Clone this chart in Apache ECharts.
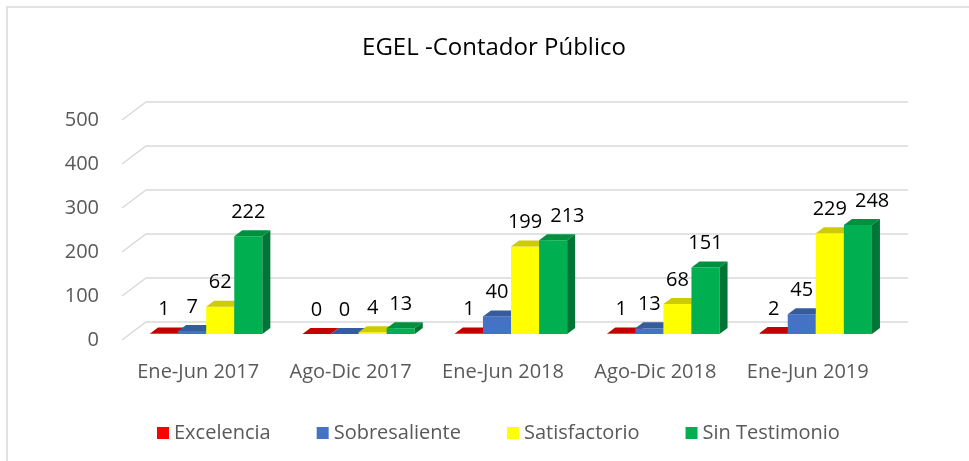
<!DOCTYPE html>
<html style="height: 100%">
<head>
    <meta charset="utf-8">
    <script src="https://cdn.jsdelivr.net/npm/echarts@6/dist/echarts.min.js"></script>
</head>
<body style="height: 100%; margin: 0; background: #fff">
<div id="container" style="width: 969px; height: 461px"></div>

<script type="text/javascript">
    var categories = ['Ene-Jun 2017', 'Ago-Dic 2017', 'Ene-Jun 2018', 'Ago-Dic 2018', 'Ene-Jun 2019'];
    var seriesNames = ['Excelencia', 'Sobresaliente', 'Satisfactorio', 'Sin Testimonio'];
    var excelencia = [1, 0, 1, 1, 2];
    var sobresaliente = [7, 0, 40, 13, 45];
    var satisfactorio = [62, 4, 199, 68, 229];
    var sinTestimonio = [222, 13, 213, 151, 248];
    var yTicks = [0, 100, 200, 300, 400, 500];

    // front / top / side colours for the fake 3d boxes
    var palette = [
        ['#ff0000', '#c40000', '#a00000'],
        ['#4472c4', '#375c9e', '#2f5597'],
        ['#ffff00', '#cccc00', '#a8a800'],
        ['#00b050', '#00913f', '#007535']
    ];
    var FONT = '"Open Sans", sans-serif';
    var LABEL_FONT = '20px ' + FONT;
    var BAR_RATIO = 28 / 152;  // bar width vs category band
    var SHIFT = [8, -6];       // bars sit a bit behind the front edge
    var DEPTH = [8, -6];       // depth of each bar
    var WALL = [24, -18];      // depth of the back wall

    var valueLists = [excelencia, sobresaliente, satisfactorio, sinTestimonio];

    var dom = document.getElementById("container");
    var myChart = echarts.init(dom);

    var measureCtx = document.createElement('canvas').getContext('2d');
    function textWidth(t) {
        measureCtx.font = LABEL_FONT;
        return measureCtx.measureText(t).width;
    }

    // like excel: push a label to the right when it would run into its neighbour
    function labelCenters(cat, api) {
        var out = [];
        var prev = null;
        for (var j = 0; j < valueLists.length; j++) {
            var base = api.coord([cat, 0]);
            var w = api.size([1, 0])[0] * BAR_RATIO;
            var x0 = base[0] + SHIFT[0] - 2 * w + j * w;
            var yt = api.coord([cat, valueLists[j][cat]])[1];
            var tw = textWidth(String(valueLists[j][cat]));
            var cx = x0 + w / 2;
            if (prev && Math.abs(prev.y - yt) < 20 && prev.right + 8 > cx - tw / 2) {
                cx = prev.right + 8 + tw / 2;
            }
            out.push(cx);
            prev = {y: yt, right: cx + tw / 2};
        }
        return out;
    }

    function boxRenderer(k) {
        var c = palette[k];
        return function (params, api) {
            var cat = api.value(0), v = api.value(1);
            var base = api.coord([cat, 0]);
            var top = api.coord([cat, v]);
            var w = api.size([1, 0])[0] * BAR_RATIO;
            var x0 = base[0] + SHIFT[0] - 2 * w + k * w;
            var yb = base[1] + SHIFT[1];
            var yt = top[1] + SHIFT[1];
            var dx = DEPTH[0], dy = DEPTH[1];
            var lx = labelCenters(cat, api)[k];
            return {
                type: 'group',
                children: [
                    {type: 'rect', shape: {x: x0, y: yt, width: w, height: yb - yt}, style: {fill: c[0]}},
                    {type: 'polygon', shape: {points: [[x0, yt], [x0 + w, yt], [x0 + w + dx, yt + dy], [x0 + dx, yt + dy]]}, style: {fill: c[1]}},
                    {type: 'polygon', shape: {points: [[x0 + w, yt], [x0 + w + dx, yt + dy], [x0 + w + dx, yb + dy], [x0 + w, yb]]}, style: {fill: c[2]}},
                    {type: 'text', x: lx, y: yt - 14, z2: 10, style: {
                        text: String(v), fill: '#000', font: LABEL_FONT,
                        align: 'center', verticalAlign: 'bottom'
                    }}
                ]
            };
        };
    }

    function gridRenderer(params, api) {
        var cs = params.coordSys;
        var y = api.coord([0, api.value(1)])[1];
        return {
            type: 'polyline',
            shape: {points: [[cs.x, y], [cs.x + WALL[0], y + WALL[1]], [cs.x + cs.width + WALL[0], y + WALL[1]]]},
            style: {stroke: '#d9d9d9', lineWidth: 1.5, fill: null}
        };
    }

    var series = [{
        type: 'custom',
        name: 'grid',
        renderItem: gridRenderer,
        data: yTicks.map(function (t) { return [0, t]; }),
        encode: {x: 0, y: 1},
        clip: false,
        silent: true,
        z: 1
    }];
    valueLists.forEach(function (vals, k) {
        series.push({
            type: 'custom',
            name: seriesNames[k],
            renderItem: boxRenderer(k),
            data: vals.map(function (v, i) { return [i, v]; }),
            encode: {x: 0, y: 1},
            itemStyle: {color: palette[k][0]},
            clip: false,
            z: 2
        });
    });

    var option = {
        animation: false,
        graphic: [
            {type: 'rect', shape: {x: 7, y: 7, width: 1000, height: 500}, style: {fill: null, stroke: '#d9d9d9', lineWidth: 1.5}, silent: true},
            {type: 'text', x: 494, y: 48, style: {
                text: 'EGEL -Contador Público', fill: '#000', font: '24px ' + FONT,
                align: 'center', verticalAlign: 'middle'
            }}
        ],
        grid: {left: 122, right: 85, top: 120, bottom: 121},
        legend: {
            data: seriesNames,
            left: 152,
            top: 418,
            icon: 'rect',
            itemWidth: 12,
            itemHeight: 12,
            itemGap: 46,
            textStyle: {fontSize: 20, color: '#595959', fontFamily: FONT}
        },
        xAxis: {
            type: 'category',
            data: categories,
            axisLine: {show: false},
            axisTick: {show: false},
            axisLabel: {interval: 0, margin: 22, fontSize: 20, color: '#595959', fontFamily: FONT}
        },
        yAxis: {
            type: 'value',
            min: 0,
            max: 500,
            interval: 100,
            axisLine: {show: false},
            axisTick: {show: false},
            splitLine: {show: false},
            axisLabel: {margin: 23, fontSize: 20, color: '#595959', fontFamily: FONT}
        },
        series: series
    };

    myChart.setOption(option);
</script>
</body>
</html>
